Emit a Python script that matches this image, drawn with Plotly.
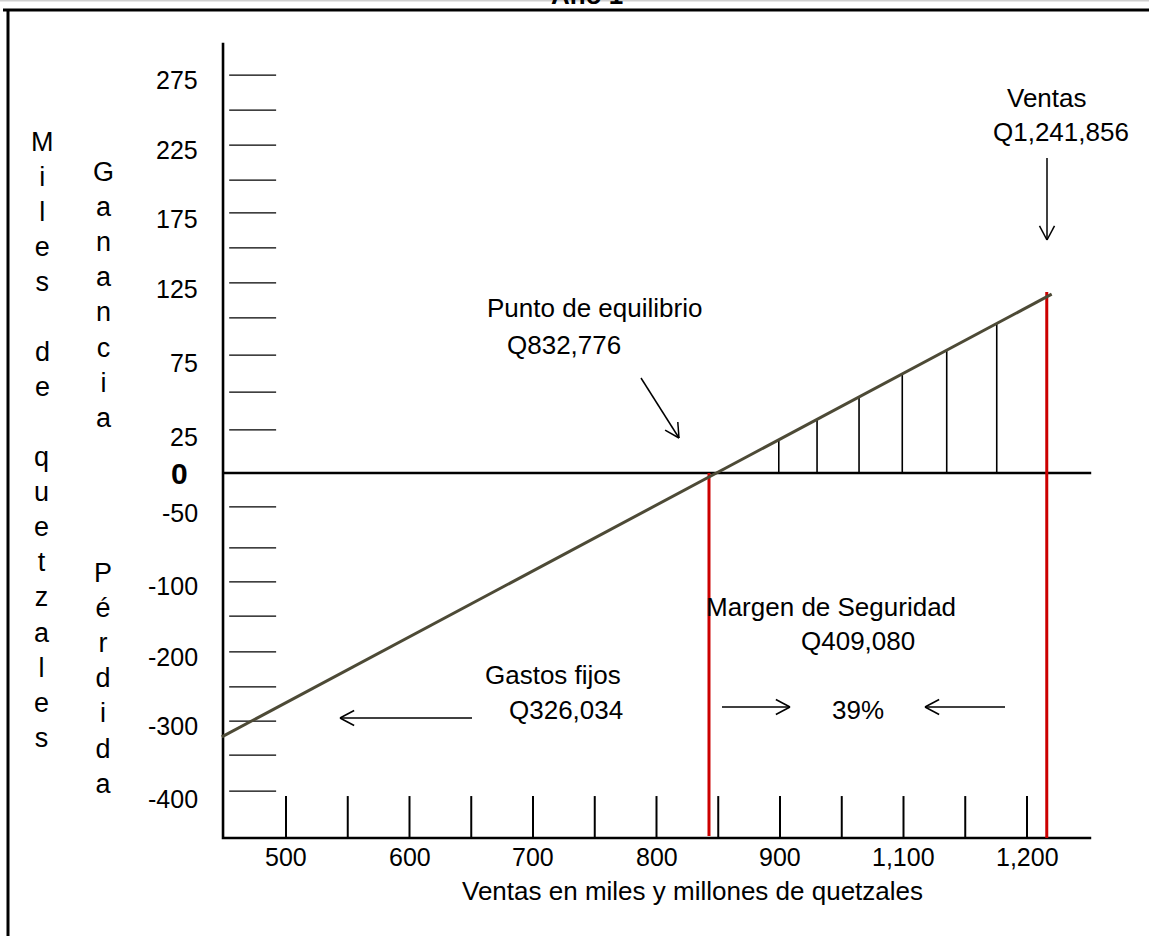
import math
import numpy as np
import plotly.graph_objects as go

# ---------------- data (schematic units: x = tick index, y = tick step) -------------
x_tick_index = list(range(13))                       # vertical tick marks on the sales axis
x_label_index = [0, 2, 4, 6, 8, 10, 12]
x_tick_labels = ["500", "600", "700", "800", "900", "1,100", "1,200"]

y_tick_levels = [11.37, 10.37, 9.37, 8.37, 7.43, 6.43, 5.43, 4.43, 3.37, 2.31, 1.23,
                 -0.97, -2.14, -3.11, -4.09, -5.11, -6.11, -7.09, -8.06, -9.09]
y_label_levels = [11.23, 9.23, 7.26, 5.26, 3.14, 1.03, 0, -1.14, -3.23, -5.26, -7.23, -9.31]
y_tick_labels = ["275", "225", "175", "125", "75", "25", "0", "-50", "-100", "-200", "-300", "-400"]

profit_x = [-1.04, 12.40]          # profit / loss line
profit_y = [-7.54, 5.11]
breakeven_x = 6.85                 # Punto de equilibrio
sales_x = 12.32                    # Ventas
sales_top = 5.17
hatch_x = [7.98, 8.60, 9.28, 9.98, 10.70, 11.51]

axis_x0, axis_x1 = -1.02, 13.04
axis_y0, axis_y1 = -10.43, 12.29
ytick_x0, ytick_x1 = -0.92, -0.16
xtick_top = -9.23

texts = {
    "title": "Año 1",
    "xtitle": "Ventas en miles y millones de quetzales",
    "ventas": ["Ventas", "Q1,241,856"],
    "equilibrio": ["Punto de equilibrio", "Q832,776"],
    "margen": ["Margen de Seguridad", "Q409,080", "39%"],
    "gastos": ["Gastos fijos", "Q326,034"],
}

# ---------------- geometry helpers ----------------
W, H = 1149, 936
X0PX, XSTEP = 286.0, 61.75
Y0PX, YSTEP = 473.0, 35.0
FONT = "Liberation Sans, Arial, sans-serif"


def PX(x):
    return x / W


def PY(y):
    return 1 - y / H


fig = go.Figure()


def seg_trace(xs, ys, color, width):
    fig.add_trace(go.Scatter(x=xs, y=ys, mode="lines", line=dict(color=color, width=width),
                             hoverinfo="skip", showlegend=False, cliponaxis=False))


# axes
seg_trace([axis_x0, axis_x0, axis_x1], [axis_y1, axis_y0, axis_y0], "black", 2.6)
seg_trace([axis_x0, axis_x1], [0, 0], "black", 2.4)

# y tick marks
xs, ys = [], []
for lv in y_tick_levels:
    xs += [ytick_x0, ytick_x1, None]
    ys += [lv, lv, None]
seg_trace(xs, ys, "black", 1.2)

# x tick marks
xs, ys = [], []
for t in x_tick_index:
    xs += [t, t, None]
    ys += [xtick_top, axis_y0, None]
seg_trace(xs, ys, "black", 2)

# hatch lines under the profit line
hatch_top = np.interp(hatch_x, profit_x, profit_y)
xs, ys = [], []
for hx, ht in zip(hatch_x, hatch_top):
    xs += [hx, hx, None]
    ys += [0, ht, None]
seg_trace(xs, ys, "black", 1.6)

# red lines
seg_trace([breakeven_x, breakeven_x], [0, -10.37], "#cc0000", 3)
seg_trace([sales_x, sales_x], [sales_top, axis_y0], "#cc0000", 3)

# profit line
seg_trace(profit_x, profit_y, "#4d4a36", 3)

annotations = []


def txt(text, x, y, size=26, ref="paper", xanchor="center", bold=False):
    if bold:
        text = "<b>" + text + "</b>"
    annotations.append(dict(text=text, x=x, y=y, xref=ref if ref == "paper" else "x",
                            yref=ref if ref == "paper" else "y", showarrow=False,
                            xanchor=xanchor, yanchor="middle",
                            font=dict(family=FONT, size=size, color="black")))


# tick labels via axes
for lab, lv in zip(y_tick_labels, y_label_levels):
    if lab == "0":
        txt(lab, -1.72, lv, size=30, ref="data", xanchor="center", bold=True)
    else:
        txt(lab, -1.39, lv, size=25, ref="data", xanchor="right")
for lab, ix in zip(x_tick_labels, x_label_index):
    txt(lab, ix, -10.97, size=25, ref="data")

# titles
txt(texts["xtitle"], PX(692), PY(891), size=26)
txt(texts["title"], PX(587), PY(-5), size=26, bold=True)

# vertical axis words
txt("M<br>i<br>l<br>e<br>s", PX(42), PY(212), size=27)
txt("d<br>e", PX(42), PY(370), size=27)
txt("q<br>u<br>e<br>t<br>z<br>a<br>l<br>e<br>s", PX(42), PY(597), size=27)
txt("G<br>a<br>n<br>a<br>n<br>c<br>i<br>a", PX(103), PY(295), size=27)
txt("P<br>é<br>r<br>d<br>i<br>d<br>a", PX(103), PY(678), size=27)

# callouts
txt(texts["ventas"][0], PX(1047), PY(98))
txt(texts["ventas"][1], PX(1061), PY(132))
txt(texts["equilibrio"][0], PX(594), PY(308))
txt(texts["equilibrio"][1], PX(564), PY(345))
txt(texts["margen"][0], PX(831), PY(607))
txt(texts["margen"][1], PX(858), PY(641))
txt(texts["margen"][2], PX(858), PY(710))
txt(texts["gastos"][0], PX(553), PY(675))
txt(texts["gastos"][1], PX(566), PY(710))

shapes = []


def line(x0, y0, x1, y1, w=1.5, color="black"):
    shapes.append(dict(type="line", xref="paper", yref="paper", x0=PX(x0), y0=PY(y0),
                       x1=PX(x1), y1=PY(y1), line=dict(color=color, width=w)))


def arrow(x0, y0, x1, y1, L=16, ang=28):
    line(x0, y0, x1, y1)
    dx, dy = x1 - x0, y1 - y0
    n = math.hypot(dx, dy)
    ux, uy = dx / n, dy / n
    for s in (1, -1):
        a = math.radians(ang) * s
        rx = ux * math.cos(a) - uy * math.sin(a)
        ry = ux * math.sin(a) + uy * math.cos(a)
        line(x1, y1, x1 - L * rx, y1 - L * ry)


arrow(1047, 158, 1047, 240)
arrow(641, 378, 679, 438)
arrow(472, 718, 340, 718)
arrow(722, 707, 790, 707)
arrow(1005, 707, 925, 707)

# frame
line(3, 10, 1160, 10, w=3.2)
line(8, 10, 8, 950, w=3)
line(0, 0.5, 1160, 0.5, w=2, color="#cfcfcf")

fig.update_layout(
    width=W, height=H, autosize=False,
    margin=dict(l=0, r=0, t=0, b=0, pad=0),
    paper_bgcolor="white", plot_bgcolor="white",
    xaxis=dict(range=[(0 - X0PX) / XSTEP, (W - X0PX) / XSTEP], visible=False, fixedrange=True),
    yaxis=dict(range=[(Y0PX - H) / YSTEP, Y0PX / YSTEP], visible=False, fixedrange=True),
    annotations=annotations, shapes=shapes, showlegend=False,
)

fig.write_html("out.html", config={"displayModeBar": False},
               post_script="document.body.style.margin='0';document.body.style.overflow='hidden';")
